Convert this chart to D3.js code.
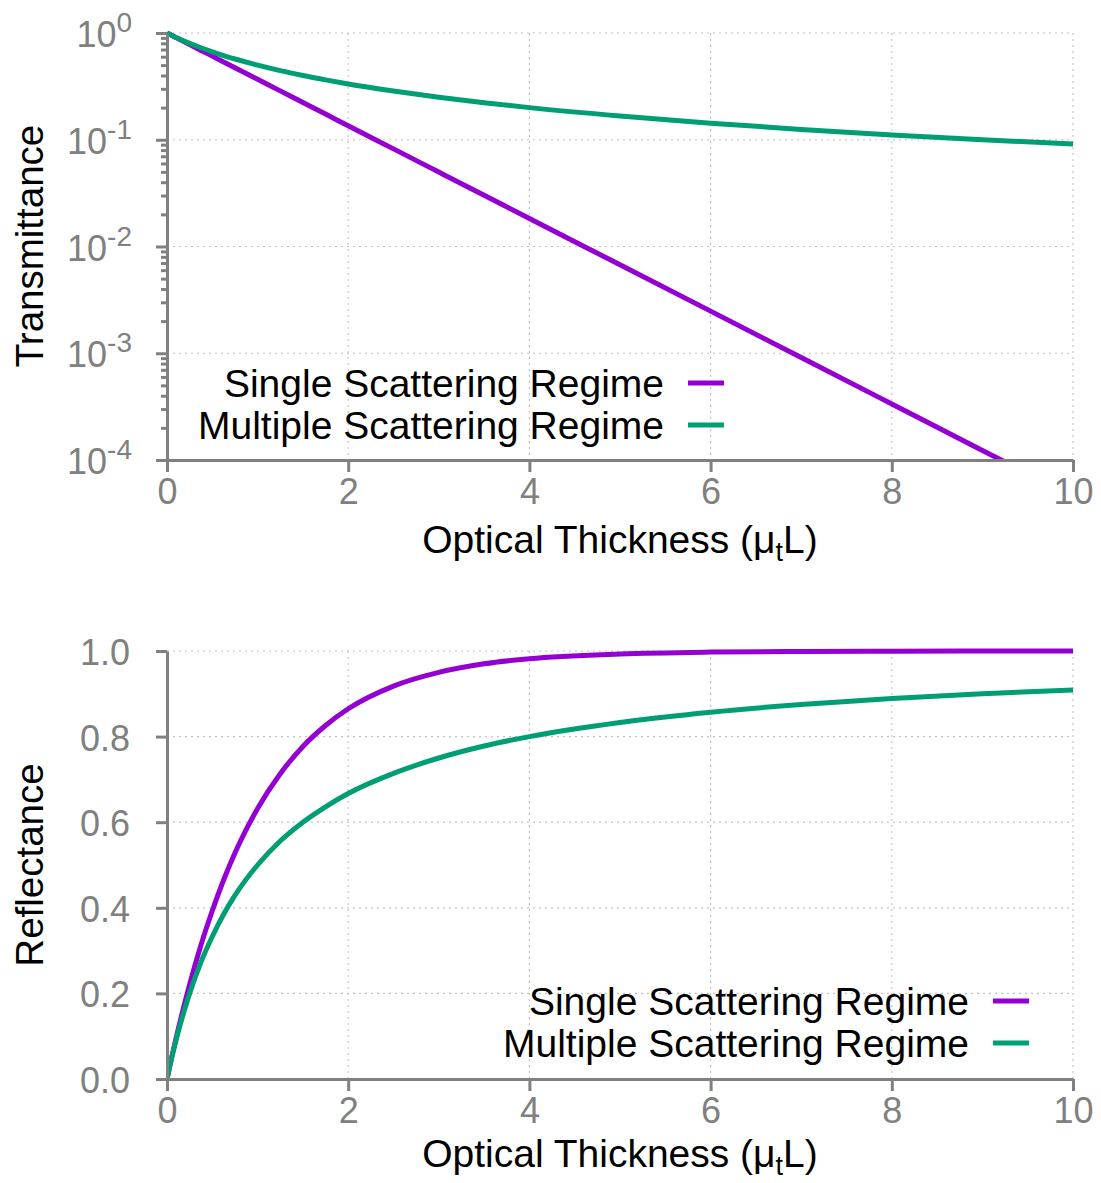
<!DOCTYPE html>
<html>
<head>
<meta charset="utf-8">
<script src="https://cdn.jsdelivr.net/npm/d3@7"></script>
<style>
  body { margin: 0; background: #fff; }
  svg { display: block; font-family: "Liberation Sans", Arial, Helvetica, sans-serif; }
  .axis path, .axis line { stroke: #808080; stroke-width: 3; }
  .axis text { fill: #808080; }
</style>
</head>
<body>
<div id="chart"></div>
<script>
// values
var thickness = [0, 0.05, 0.1, 0.25, 0.375, 0.5, 0.625, 0.75, 0.875, 1, 1.25, 1.5, 1.75, 2, 2.5, 3, 3.5, 4, 5, 6, 7, 8, 9, 10];
var transSingle = [1, 0.951, 0.905, 0.779, 0.687, 0.607, 0.535, 0.472, 0.417, 0.368, 0.287, 0.223, 0.174, 0.135, 0.0821, 0.0498, 0.0302, 0.0183, 0.00674, 0.00248, 0.000912, 0.000335, 0.000123, 0.0000454];
var transMultiple = [1, 0.952, 0.909, 0.8, 0.727, 0.667, 0.615, 0.571, 0.533, 0.5, 0.444, 0.4, 0.364, 0.333, 0.286, 0.25, 0.222, 0.2, 0.167, 0.143, 0.125, 0.111, 0.1, 0.091];
var reflSingle = [0, 0.049, 0.095, 0.221, 0.313, 0.393, 0.465, 0.528, 0.583, 0.632, 0.713, 0.777, 0.826, 0.865, 0.918, 0.95, 0.97, 0.982, 0.993, 0.9975, 0.9991, 0.9997, 0.9999, 1.0];
var reflMultiple = [0, 0.048, 0.091, 0.2, 0.273, 0.333, 0.385, 0.429, 0.467, 0.5, 0.556, 0.6, 0.636, 0.667, 0.714, 0.75, 0.778, 0.8, 0.833, 0.857, 0.875, 0.889, 0.9, 0.909];

var seriesNames = ["Single Scattering Regime", "Multiple Scattering Regime"];
var seriesColors = ["#9400d3", "#009e73"];
var xTicks = [0, 2, 4, 6, 8, 10];
var transTicks = [1, 0.1, 0.01, 0.001, 0.0001];
var transExp = ["0", "-1", "-2", "-3", "-4"];
var reflTicks = [0, 0.2, 0.4, 0.6, 0.8, 1.0];

var width = 1101, height = 1183;
var svg = d3.select("#chart").append("svg")
  .attr("width", width)
  .attr("height", height);

var x = d3.scaleLinear().domain([0, 10]).range([167, 1073]);

function draw_panel(opt){
  var g = svg.append("g");
  var y = opt.y;
  var top = y.range()[1], bottom = y.range()[0];

  // dotted grid
  g.selectAll(".vgrid").data(xTicks.slice(1)).enter().append("line")
    .attr("x1", d => x(d)).attr("x2", d => x(d))
    .attr("y1", top).attr("y2", bottom)
    .attr("stroke", "#c4c4c4").attr("stroke-width", 1.2)
    .attr("stroke-dasharray", "2,4");
  g.selectAll(".hgrid").data(opt.ticks).enter().append("line")
    .attr("x1", x(0)).attr("x2", x(10))
    .attr("y1", d => y(d)).attr("y2", d => y(d))
    .attr("stroke", "#c4c4c4").attr("stroke-width", 1.2)
    .attr("stroke-dasharray", "2,4");

  // clip for lines
  var clipId = "clip" + opt.id;
  svg.append("clipPath").attr("id", clipId)
    .append("rect").attr("x", x(0)).attr("y", top - 5)
    .attr("width", x(10) - x(0) + 2).attr("height", bottom - top + 5);

  var line = d3.line()
    .x((d, i) => x(thickness[i]))
    .y(d => y(d))
    .curve(d3.curveMonotoneX);

  opt.series.forEach(function(s, k){
    g.append("path")
      .datum(s)
      .attr("clip-path", "url(#" + clipId + ")")
      .attr("fill", "none")
      .attr("stroke", seriesColors[k])
      .attr("stroke-width", 5)
      .attr("d", line);
  });

  // axes
  var xa = g.append("g").attr("class", "axis")
    .attr("transform", "translate(0," + bottom + ")")
    .call(d3.axisBottom(x).tickValues(xTicks).tickSize(12).tickSizeOuter(0).tickPadding(6)
      .tickFormat(d3.format("d")));
  xa.selectAll("text").attr("font-size", 36);

  var ya = g.append("g").attr("class", "axis")
    .attr("transform", "translate(" + x(0) + ",0)")
    .call(d3.axisLeft(y).tickValues(opt.ticks).tickSize(11).tickSizeOuter(0).tickFormat(""));
  ya.selectAll("text").remove();

  if(opt.minor){
    var ym = g.append("g").attr("class", "axis")
      .attr("transform", "translate(" + x(0) + ",0)")
      .call(d3.axisLeft(y).tickValues(opt.minor).tickSize(6).tickFormat(""));
    ym.select(".domain").remove();
  }

  // y tick labels
  var labels = g.selectAll(".ylab").data(opt.ticks).enter().append("text")
    .attr("x", opt.labelRight)
    .attr("y", d => y(d) + 14)
    .attr("text-anchor", "end")
    .attr("fill", "#808080")
    .attr("font-size", 36);
  if(opt.exp){
    labels.append("tspan").text("10");
    labels.append("tspan").attr("dy", -15).attr("font-size", 28)
      .text((d, i) => opt.exp[i]);
  } else {
    labels.text(d => d3.format(".1f")(d));
  }

  // axis titles
  g.append("text")
    .attr("transform", "translate(43," + opt.titleY + ") rotate(-90)")
    .attr("text-anchor", "middle")
    .attr("font-size", 38.5)
    .text(opt.title);

  var xt = g.append("text")
    .attr("x", 620).attr("y", opt.xTitleY)
    .attr("text-anchor", "middle")
    .attr("font-size", 39);
  xt.append("tspan").text("Optical Thickness (\u03bc");
  xt.append("tspan").attr("font-size", 27).attr("dy", 8).text("t");
  xt.append("tspan").attr("dy", -8).text("L)");

  // legend
  seriesNames.forEach(function(name, k){
    var ly = opt.legendY + k * 42;
    g.append("text")
      .attr("x", opt.legendX).attr("y", ly + 14)
      .attr("text-anchor", "end")
      .attr("font-size", 39)
      .text(name);
    g.append("line")
      .attr("x1", opt.legendX + 24).attr("x2", opt.legendX + 60)
      .attr("y1", ly).attr("y2", ly)
      .attr("stroke", seriesColors[k]).attr("stroke-width", 5);
  });
}

var minorTicks = [];
[-4, -3, -2, -1].forEach(function(e){
  for(var m = 2; m <= 9; m++) minorTicks.push(m * Math.pow(10, e));
});

draw_panel({
  id: "t",
  y: d3.scaleLog().domain([1e-4, 1]).range([460, 33]),
  ticks: transTicks,
  exp: transExp,
  minor: minorTicks,
  series: [transSingle, transMultiple],
  labelRight: 132,
  title: "Transmittance",
  titleY: 246,
  xTitleY: 553,
  legendX: 664,
  legendY: 383
});

draw_panel({
  id: "r",
  y: d3.scaleLinear().domain([0, 1]).range([1079, 651]),
  ticks: reflTicks,
  series: [reflSingle, reflMultiple],
  labelRight: 130,
  title: "Reflectance",
  titleY: 865,
  xTitleY: 1167,
  legendX: 969,
  legendY: 1001
});
</script>
</body>
</html>
